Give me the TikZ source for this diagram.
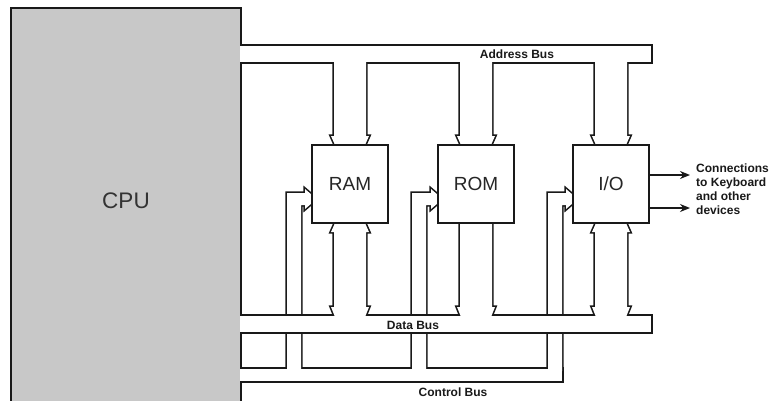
\documentclass[tikz,border=0pt]{standalone}
\usepackage{fontspec}
\setmainfont{Liberation Sans}
\usetikzlibrary{arrows.meta}
\newcommand{\adrop}[1]{({#1-16},60) -- ({#1-16},136) -- ({#1-19},136) -- ({#1-15},145) -- ({#1+15},145) -- ({#1+19},136) -- ({#1+16},136) -- ({#1+16},60) -- cycle}
\newcommand{\ddrop}[1]{({#1-15},223) -- ({#1-19},232) -- ({#1-16},232) -- ({#1-16},307) -- ({#1-19},307) -- ({#1-15},317) -- ({#1+15},317) -- ({#1+19},307) -- ({#1+16},307) -- ({#1+16},232) -- ({#1+19},232) -- ({#1+15},223) -- cycle}
\newcommand{\ddropout}[1]{({#1-16},223) -- ({#1-16},307) -- ({#1-19},307) -- ({#1-15},317) -- ({#1+15},317) -- ({#1+19},307) -- ({#1+16},307) -- ({#1+16},223) -- cycle}
\newcommand{\cpipe}[2]{(#1,371) -- (#1,193) -- ({#2-7},193) -- ({#2-7},189) -- (#2,195) -- (#2,203) -- ({#2-7},209) -- ({#2-7},205) -- ({#1+14},205) -- ({#1+14},371) -- cycle}
\newcommand{\ctlparts}[1]{#1 (230,369) rectangle (562,381); #1 \cpipe{287}{312}; #1 \cpipe{412}{438}; #1 \cpipe{548}{573};}
\newcommand{\mainparts}[1]{#1 (230,46) rectangle (651,62); #1 \adrop{350}; #1 \adrop{476}; #1 \adrop{611};
  #1 (230,316) rectangle (651,332); #1 \ddrop{350}; #1 \ddropout{476}; #1 \ddrop{611};}
\definecolor{cpugray}{RGB}{200,200,200}
\begin{document}
\begin{tikzpicture}[x=1pt, y=-1pt,
  wall/.style={draw=black!90, line width=3.2pt, miter limit=3},
  module/.style={draw=black!90, fill=white, line width=1.6pt, minimum width=76pt, minimum height=78pt, inner sep=0pt, text=black!85, font=\fontsize{19}{21}\selectfont},
  buslabel/.style={inner sep=0pt, text=black!90, font=\bfseries\fontsize{12}{14}\selectfont},
  outarrow/.style={draw=black!90, line width=1.5pt, -{Stealth[length=10pt,width=8pt]}}]
\useasboundingbox (0,0) rectangle (773,400);
\clip (0,0) rectangle (773,400);
% outlines first, then white insides: the control bus runs under the data bus
\draw[wall] (12,9) rectangle (240,420);
\ctlparts{\draw[wall]}
\ctlparts{\fill[white]}
\mainparts{\draw[wall]}
\mainparts{\fill[white]}
\fill[cpugray] (12,9) rectangle (240,420);
\node[text=black!80, font=\fontsize{22.5}{24}\selectfont] (cpu) at (126,201) {CPU};
\node[module] (ram) at (350,184) {RAM};
\node[module] (rom) at (476,184) {ROM};
\node[module] (io) at (611,184) {I/O};
\node[buslabel] (abus) at (517,54) {Address Bus};
\node[buslabel] (dbus) at (413,325) {Data Bus};
\node[buslabel] (cbus) at (453,392) {Control Bus};
\coordinate (out1) at (690,175);
\coordinate (out2) at (690,208);
\draw[outarrow] (io.east |- out1) -- (out1);
\draw[outarrow] (io.east |- out2) -- (out2);
\node[buslabel, anchor=north west, align=left] (conn) at (696,164) {Connections\\to Keyboard\\and other\\devices};
\end{tikzpicture}
\end{document}
